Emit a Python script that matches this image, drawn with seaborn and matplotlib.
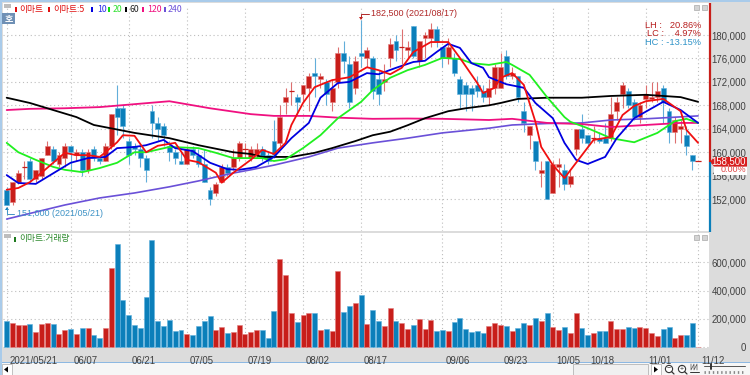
import matplotlib
matplotlib.use("Agg")
import matplotlib.pyplot as plt
from matplotlib.patches import Rectangle, Circle, Polygon
from matplotlib.transforms import ScaledTranslation
import numpy as np
import seaborn as sns

# ---- data ----
opens = [153500,151500,155000,157500,158500,155500,156000,159500,160500,158000,
         159000,161000,159500,160000,157000,160500,159000,158500,161000,167500,
         167500,162000,161000,160500,159000,167000,165000,164500,161000,160000,
         158500,158000,160500,159500,158000,153500,153000,155000,157500,157500,
         159000,160500,159000,159500,160500,159500,162000,161500,168500,170500,
         169500,170000,171000,173500,172500,172000,168500,172000,177000,175000,
         171000,177000,176000,176000,172500,172000,176000,179000,178000,177500,
         181500,175500,179500,179500,181000,178000,176000,176000,172500,171500,
         171000,171500,170500,169500,171000,171000,176500,173000,173000,167000,
         163000,162000,156500,158500,153000,157500,157000,154500,160500,164000,
         163000,162500,162500,162500,162500,167000,170000,170500,168500,166000,
         169000,169000,169500,171000,167000,163500,164000,163000,159500,158500]
closes = [151000,155000,156500,157500,155500,157000,159000,161000,158500,159500,
          161000,160000,160000,157000,160000,159000,158500,161000,166500,166000,
          164500,159500,160500,159000,157000,165000,164000,163000,160000,159000,
          158000,160500,159500,158000,155000,152000,154500,157500,156500,159000,
          161500,160500,160500,160500,159000,158500,159500,166000,169500,170500,
          168500,171500,173000,173000,173000,170000,171000,177000,175500,168500,
          175500,176500,177500,170500,170000,172500,178500,177500,178000,178000,
          176500,179000,180000,181000,179000,176000,178000,173500,170000,170000,
          170000,170500,169500,171000,174500,174500,173000,173500,169500,165000,
          164500,158500,157000,152000,158000,158000,154500,156000,164000,162500,
          161500,162500,162000,161500,166500,168500,171500,168000,166000,168000,
          170000,169500,170500,168500,163500,165500,164500,161000,158500,158500]
highs = [154000,155000,157000,158500,159000,157000,159000,162000,161000,160000,
         161500,161000,160500,160500,160500,161000,159500,161500,166500,171500,
         168000,162500,161500,161000,159500,168000,166000,165000,162000,160500,
         160000,161000,161000,160500,160500,154000,155000,158000,158000,160500,
         162000,161500,161000,161500,161000,160000,165500,168000,171000,172000,
         170000,171500,173500,176000,173500,172500,172500,178000,179000,176500,
         176500,182500,178000,176500,174000,175000,179500,180000,181000,179000,
         181500,179000,180500,182000,181500,178000,179500,177000,173000,172000,
         171500,173000,171500,172500,175000,177000,177500,174500,173000,168500,
         164500,162000,158500,158500,158500,159000,158000,157000,164000,166500,
         163000,164500,163500,165000,169500,169500,172000,171000,169000,168500,
         171500,172000,172000,171500,167500,166000,165500,164500,159500,158500]
lows = [151000,151000,154500,155500,155000,155000,155500,159500,158000,157500,
        157500,157000,158500,156000,156500,158500,158000,158500,160500,163000,
        162500,158000,159500,157500,155000,162500,162000,161000,158500,158000,
        158000,158000,159000,157500,155000,151000,152500,155000,156000,157000,
        158500,159000,158500,159000,158500,158000,159000,161000,166500,168000,
        166500,168500,167000,169500,171000,168000,167000,171000,173500,167500,
        170000,174500,174500,169000,168000,170500,174500,175500,175000,176000,
        176000,174500,176000,178000,178000,174500,175000,173000,167500,167000,
        167000,169500,168500,168000,170000,171000,172500,172500,168500,163500,
        160500,157000,154000,152000,153000,154000,153500,154000,159500,161500,
        161000,161500,161500,161500,162000,165500,167500,167500,165500,165000,
        167500,168500,168500,165000,161500,161500,161500,159500,157000,158500]
volume = [186,169,155,160,165,108,165,169,165,96,125,129,94,134,134,89,68,134,558,730,
          334,228,160,139,355,760,186,151,193,115,120,94,89,151,186,221,120,144,99,108,
          160,94,108,125,125,68,254,626,511,240,179,228,245,240,120,129,115,541,249,289,
          311,369,165,263,186,151,278,186,174,129,160,200,129,193,115,125,115,179,209,129,
          108,115,99,151,174,160,148,115,134,174,160,205,188,245,144,125,144,99,240,139,
          89,101,115,115,184,129,129,144,134,144,134,99,80,129,144,68,85,89,169,0]

ma5_x = [0,2,4,6,8,10,12,14,16,17,19,20,22,24,26,29,31,33,36,37,39,42,44,46,48,49,51,53,56,59,
         62,64,66,68,70,73,76,78,81,82,84,85,87,89,91,92,94,96,98,99,101,104,106,108,110,113,116,117,119]
ma5 = [153600,153900,154900,156500,158200,159900,159500,159500,159200,160000,161700,162900,162800,
       160000,161100,161600,158700,158300,156500,154800,156500,158700,160400,159700,161600,164650,
       168400,171100,172300,172800,174500,174000,173300,174400,177100,178800,178800,176100,171800,
       170100,171000,172700,173500,171500,165200,160900,157800,155600,158200,159500,162100,162600,
       166350,167900,168700,169100,167000,163800,161600]
ma10_x = [0,2,5,7,9,11,14,17,19,22,24,27,29,32,35,38,40,42,43,46,49,52,54,57,59,62,64,67,70,72,74,
          76,78,80,82,83,86,89,91,94,96,98,100,103,105,108,113,116,119]
ma10 = [156100,154750,154600,155800,157000,158200,159000,159200,160700,160900,161200,162100,160700,
        160200,158200,157100,157000,157300,157500,159200,162400,165000,169300,171800,172000,173500,
        173300,174400,175400,175600,177100,178500,177800,175200,174400,172800,171600,171000,168400,
        165800,161600,158700,158000,159200,162400,165800,168600,167200,165000]
ma20_x = [0,2,5,8,10,13,16,19,22,24,28,33,36,39,44,46,48,51,54,57,59,61,63,66,69,72,75,78,80,83,
          86,87,90,93,96,97,100,104,108,112,115,117,119]
ma20 = [161600,160000,158700,157500,157000,156600,157300,158200,160000,160000,160900,160700,159900,
        159000,159000,158500,158800,160700,162900,165800,167200,168600,170600,172700,174000,174900,
        176100,175900,175200,174900,175400,174900,173200,169400,166000,165200,164100,162400,161700,
        163300,165300,165700,165000]
ma60_x = [0,4,8,12,15,22,28,33,39,42,44,47,49,53,56,60,63,66,69,72,76,79,83,85,88,93,99,104,110,116,119]
ma60 = [169300,168400,167200,166000,164650,163300,162400,161200,160000,159700,159200,159200,159200,
        159900,160700,161900,162900,163500,164600,165800,167000,167500,168000,168400,169100,169300,
        169300,169600,169800,169400,168600]
ma120_x = [0,4,10,16,22,28,35,42,46,52,57,63,69,75,83,87,93,99,104,110,116,119]
ma120 = [167200,167400,167500,167700,168200,168700,167500,166500,166200,166200,165900,165700,165750,
         165700,165500,165700,165000,164800,164300,164650,165000,165000]
ma240_x = [0,5,10,16,22,28,33,39,42,46,52,57,63,69,75,83,87,93,99,104,110,119]
ma240 = [148600,149800,151000,152200,153050,154100,155100,156450,157000,157800,159200,160700,161600,
         162400,163300,164100,164650,164900,165000,165500,165700,166200]

date_idx = [0,11,21,31,41,51,61,75,85,94,100,110,119]
date_labels = ["2021/05/21","06/07","06/21","07/05","07/19","08/02","08/17","09/06",
               "09/23","10/05","10/18","11/01","11/12"]
price_ticks = [152000,156000,160000,164000,168000,172000,176000,180000]
volume_ticks = [0,200000,400000,600000]
legend_names = ["이마트","이마트:5","10","20","60","120","240"]

# ---- style ----
sns.set_theme(style="white")
LAT = ["Liberation Sans", "DejaVu Sans"]
KR = ["Noto Sans CJK KR", "DejaVu Sans"]
plt.rcParams["font.family"] = LAT
RED, BLUE = "#C81E1A", "#0B7FBA"
WRED, WBLUE = "#DD7070", "#62AEDA"
ERED, EBLUE = "#E27C7C", "#5FB0DC"
GREY = "#DCDCDC"
TXT = "#404040"
FS = 6.9

W, H = 750, 375
fig = plt.figure(figsize=(W/100, H/100), dpi=100, facecolor="white")
def rect_ax(l, t, r, b, z=1):
    return fig.add_axes([l/W, 1-b/H, (r-l)/W, (b-t)/H], zorder=z)

under = rect_ax(0, 0, W, H, 0); under.set_xlim(0, W); under.set_ylim(H, 0); under.axis("off")
over = rect_ax(0, 0, W, H, 5); over.set_xlim(0, W); over.set_ylim(H, 0); over.axis("off"); over.patch.set_alpha(0)
ap = rect_ax(3, 7, 709, 231, 1)
av = rect_ax(3, 233, 709, 348, 1)

# window chrome
under.add_patch(Rectangle((0, 0), W, H, fc="#F6F6F6", ec="none"))
under.add_patch(Rectangle((2, 2), W-2, 360, fc=GREY, ec="none"))
under.add_patch(Rectangle((3, 3), 706, 228, fc="white", ec="none"))
under.add_patch(Rectangle((0, 0), W, 2, fc="#A9CBEA", ec="none"))
under.add_patch(Rectangle((0, 0), 2, H, fc="#A9CBEA", ec="none"))
under.add_patch(Rectangle((2, 361.5), W, 1, fc="#8DB8E2", ec="none"))

# ---- candles ----
o, c, h, l = map(np.array, (opens, closes, highs, lows))
idx = np.arange(len(o))
up = c >= o
ap.vlines(idx[up], l[up], h[up], color=WRED, lw=0.8, zorder=2)
ap.vlines(idx[~up], l[~up], h[~up], color=WBLUE, lw=0.8, zorder=2)
body = np.abs(c-o)
ap.bar(idx[up], body[up], bottom=np.minimum(o, c)[up], width=0.84, color=RED, edgecolor=ERED, lw=0.4, zorder=3)
ap.bar(idx[~up], body[~up], bottom=np.minimum(o, c)[~up], width=0.84, color=BLUE, edgecolor=EBLUE, lw=0.4, zorder=3)
doji = body == 0
ap.hlines(c[doji], idx[doji]-0.45, idx[doji]+0.45, color=RED, lw=0.9, zorder=3)

# moving averages
for xs, ys, col, lw in [(ma240_x, ma240, "#6A50D8", 1.2), (ma120_x, ma120, "#F01080", 1.3),
                        (ma60_x, ma60, "#000000", 1.3), (ma20_x, ma20, "#20F020", 1.3),
                        (ma10_x, ma10, "#0000E0", 1.3), (ma5_x, ma5, "#F01010", 1.3)]:
    sns.lineplot(x=xs, y=ys, color=col, lw=lw, ax=ap, zorder=4, legend=False, estimator=None)

# ---- volume ----
vol = np.array(volume)*1000
sns.barplot(x=idx, y=vol, hue=up, palette={True: RED, False: BLUE}, native_scale=True, dodge=False,
            width=0.86, legend=False, ax=av, zorder=3, saturation=1)
for cont, ecol in zip(av.containers, (EBLUE, ERED)):
    for p in cont:
        p.set_edgecolor(ecol); p.set_linewidth(0.4)

# ---- axes ----
x0, x1 = (3-6.7)/5.81, (709-6.7)/5.81
for a in (ap, av):
    a.set_facecolor("white")
    a.set_xlim(x0, x1)
    a.set_xticks(date_idx)
    a.grid(True, ls=(0, (1, 2.5)), color="#BDBDBD", lw=0.8)
    a.set_axisbelow(True)
    a.set_xlabel(""); a.set_ylabel("")
    for s in a.spines.values():
        s.set_visible(False)
    a.yaxis.tick_right()
    a.tick_params(axis="y", length=0, pad=26.8, labelsize=FS, labelcolor=TXT)

ap.set_ylim(146562, 184777)
ap.set_yticks(price_ticks)
ap.set_yticklabels([f"{v:,}" for v in price_ticks], ha="right")
ap.tick_params(axis="x", length=0, labelbottom=False)

av.set_ylim(-4900, 807000)
av.set_yticks(volume_ticks)
av.set_yticklabels([f"{v:,}" for v in volume_ticks], ha="right")
av.tick_params(axis="x", length=2.5, width=0.6, color="#999999", labelsize=FS, labelcolor=TXT, pad=3)
av.set_xticks(date_idx)
av.set_xticklabels(date_labels, ha="left")
shift = ScaledTranslation(3/100, 0, fig.dpi_scale_trans)
for t in av.get_xticklabels():
    t.set_transform(t.get_transform()+shift)

# ---- side markers ----
over.plot([709.5, 709.5], [3, 162], color="#C81E1A", lw=1.6, solid_capstyle="butt")
over.plot([709.5, 709.5], [162, 232], color=BLUE, lw=1.6, solid_capstyle="butt")
over.add_patch(Rectangle((714, 167), 33, 7.5, fc="white", ec="none"))
over.add_patch(Polygon([(710, 162), (714, 157), (747, 157), (747, 166.5), (714, 166.5)], fc="#D81E1E", ec="none"))
over.text(746, 162, "158,500", color="white", fontsize=FS, ha="right", va="center")
over.text(746, 170, "0.00%", color="#E04848", fontsize=6.5, ha="right", va="center")

# ---- legends ----
items = [(15.7, 19, legend_names[0], "#E01010", "#E01010"), (49, 53, legend_names[1], "#E01010", "#E01010"),
         (92, 97, legend_names[2], "#0000E0", "#2A2AE8"), (109, 113, legend_names[3], "#10E010", "#30E030"),
         (126, 130, legend_names[4], "#000000", "#222222"), (143, 147, legend_names[5], "#F01080", "#F01080"),
         (165, 168, legend_names[6], "#6A50D8", "#6A50D8")]
for sx, tx, name, sc, tc in items:
    over.add_patch(Rectangle((sx-1, 7), 2.2, 5, fc=sc, ec="none"))
    over.text(tx, 9.5, name, color=tc, fontsize=6.3, ha="left", va="center", family=KR)
over.add_patch(Rectangle((4, 4), 7, 4, fc="#BDBDBD", ec="none"))
over.add_patch(Rectangle((2, 13), 13, 11, fc="#6F90B5", ec="none"))
over.text(8.5, 18.5, "호", color="white", fontsize=6.5, ha="center", va="center", family=KR, weight="bold")
over.add_patch(Rectangle((4, 234), 7, 4, fc="#BDBDBD", ec="none"))
over.add_patch(Rectangle((14, 236.5), 2, 5, fc="#1E7A1E", ec="none"))
over.text(19, 239, "이마트:거래량", color="#2E8B2E", fontsize=6.3, ha="left", va="center", family=KR)

# ---- annotations ----
over.text(17, 213, "151,000 (2021/05/21)", color="#3F93C6", fontsize=6.5, ha="left", va="center")
over.plot([7, 7, 14], [209, 213.6, 213.6], color="#3F93C6", lw=0.7)
over.add_patch(Polygon([(5, 210), (9, 210), (7, 207)], fc="#0B7FBA", ec="none"))
over.text(371, 14, "182,500 (2021/08/17)", color="#B02828", fontsize=6.5, ha="left", va="center")
over.plot([361, 361, 369], [18, 14, 14], color="#B02828", lw=0.7)
over.add_patch(Polygon([(359, 17), (363, 17), (361, 20)], fc="#C81E1A", ec="none"))

for y, s, col in [(25, "LH :   20.86%", "#B82020"), (34, "LC :    4.97%", "#B82020"), (42.5, "HC : -13.15%", "#2E93C8")]:
    over.text(701, y, s, color=col, fontsize=6.7, ha="right", va="center")
for px, py in [(694, 5), (701.5, 5), (694, 234.5), (701.5, 234.5)]:
    over.add_patch(Rectangle((px, py), 5, 5, fc="#D4D4D4", ec="#999999", lw=0.4))

# ---- bottom toolbar ----
over.add_patch(Rectangle((2, 364), 10, 11, fc="white", ec="#AAAAAA", lw=0.5))
over.add_patch(Polygon([(4, 369.5), (8, 366.5), (8, 372.5)], fc="black", ec="none"))
over.add_patch(Rectangle((573, 364), 75, 11, fc="#F0F0F0", ec="#AAAAAA", lw=0.5))
over.add_patch(Rectangle((651, 364), 10, 11, fc="white", ec="#AAAAAA", lw=0.5))
over.add_patch(Polygon([(654, 366.5), (658, 369.5), (654, 372.5)], fc="black", ec="none"))
for cx, sym in [(669, "−"), (682, "+")]:
    over.add_patch(Circle((cx, 369), 3.6, fc="white", ec="#333333", lw=0.8))
    over.plot([cx+2.5, cx+5], [371.5, 374], color="#333333", lw=0.9)
    over.text(cx, 369, sym, fontsize=5, ha="center", va="center", color="#333333")
over.plot([704, 745], [366, 366], color="#555555", lw=0.7)
over.plot([711, 711], [363.5, 369], color="#333333", lw=1.4)
over.plot([704, 745], [372, 372], color="#888888", lw=2, ls=(0, (0.5, 1)))
over.plot([690, 699], [372, 372], color="#333333", lw=0.7)
over.plot([691, 691, 694, 694, 697, 697], [364, 370, 364, 370, 364, 370], color="#555555", lw=0.5)
over.set_xlim(0, W); over.set_ylim(H, 0)

fig.savefig("out.png", dpi=100)
